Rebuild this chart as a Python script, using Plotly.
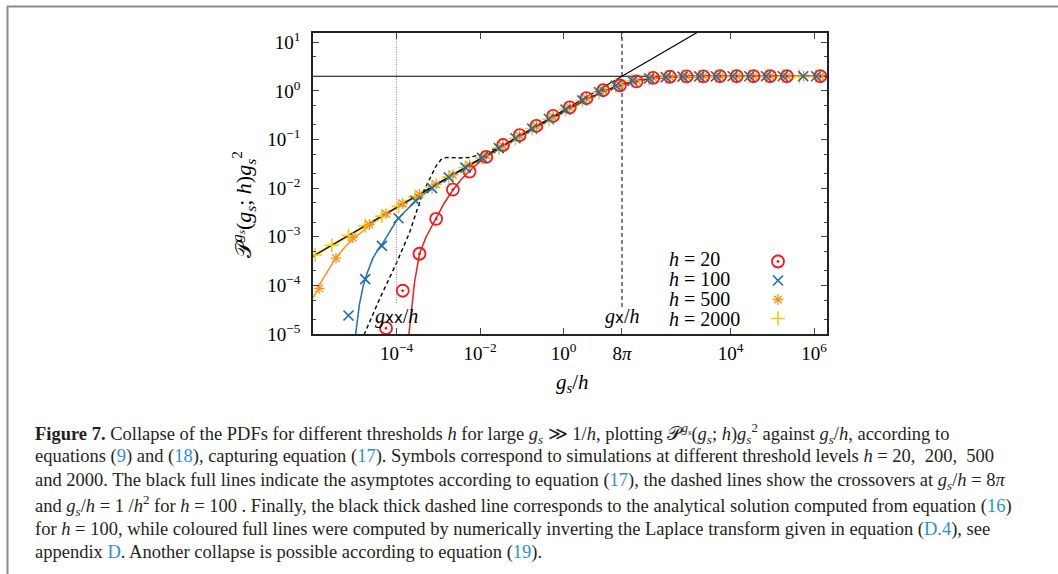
import plotly.graph_objects as go

# ---------------- data ----------------
# common collapse curve (all h) for larger g_s/h
collapse_x = [0.01585, 0.03981, 0.1, 0.2512, 0.631, 1.585, 3.981, 10, 15.85, 25.12,
              39.81, 63.1, 100, 158.5, 251.2, 398.1, 631, 1000, 2512, 10000, 2.04e6]
collapse_y = [0.0500, 0.0790, 0.1245, 0.1950, 0.3040, 0.466, 0.700, 1.005, 1.170, 1.340,
              1.500, 1.640, 1.757, 1.848, 1.911, 1.951, 1.974, 1.986, 1.996, 2.0, 2.0]

# coloured full lines, low g_s/h parts
line2000_x = [1e-6, 1e-5, 1e-4, 1e-3, 6.31e-3]
line2000_y = [3.98e-4, 1.259e-3, 3.98e-3, 1.259e-2, 3.16e-2]

line500_x = [1.0e-6, 1.26e-6, 1.58e-6, 2.0e-6, 2.51e-6, 3.16e-6, 3.98e-6, 6.31e-6, 1.0e-5,
             1.58e-5, 2.51e-5, 3.98e-5, 6.31e-5, 1.0e-4, 1.0e-3, 6.31e-3]
line500_y = [5.62e-5, 7.6e-5, 1.20e-4, 1.70e-4, 2.34e-4, 3.16e-4, 4.17e-4, 6.61e-4, 9.55e-4,
             1.32e-3, 1.82e-3, 2.40e-3, 3.13e-3, 3.98e-3, 1.259e-2, 3.16e-2]

line100_x = [1.0e-5, 1.122e-5, 1.288e-5, 1.585e-5, 1.995e-5, 2.69e-5, 3.55e-5, 4.47e-5, 6.31e-5,
             1.0e-4, 1.585e-4, 2.51e-4, 3.98e-4, 6.31e-4, 1.0e-3, 2.51e-3, 6.31e-3]
line100_y = [7.08e-6, 1.78e-5, 3.98e-5, 9.55e-5, 1.82e-4, 3.55e-4, 5.37e-4, 6.92e-4, 1.10e-3,
             2.14e-3, 3.31e-3, 4.79e-3, 6.92e-3, 9.55e-3, 1.245e-2, 2.0e-2, 3.16e-2]

line20_x = [1.905e-4, 1.995e-4, 2.24e-4, 2.69e-4, 3.55e-4, 5.13e-4, 8.71e-4, 1.41e-3, 2.24e-3,
            3.55e-3, 5.62e-3, 8.91e-3, 1.41e-2, 2.51e-2]
line20_y = [7.08e-6, 1.0e-5, 3.16e-5, 1.12e-4, 4.47e-4, 1.0e-3, 2.34e-3, 5.01e-3, 9.12e-3,
            1.51e-2, 2.24e-2, 3.24e-2, 4.37e-2, 6.17e-2]

# analytical solution for h = 100 (thick dashed)
analytic_x = [1.41e-5, 1.70e-5, 3.98e-5, 1.0e-4, 2.04e-4, 2.95e-4, 4.27e-4, 5.62e-4, 8.91e-4,
              1.175e-3, 1.585e-3, 3.16e-3, 5.62e-3, 1.0e-2, 1.41e-2, 2.51e-2]
analytic_y = [7.08e-6, 1.0e-5, 5.37e-5, 2.88e-4, 1.20e-3, 3.09e-3, 8.13e-3, 1.29e-2, 2.88e-2,
              3.89e-2, 4.27e-2, 4.17e-2, 4.27e-2, 4.90e-2, 5.37e-2, 6.76e-2]

# asymptotes
asym_diag_x = [1e-6, 1e4]
asym_diag_y = [3.99e-4, 39.9]
asym_flat_x = [1e-6, 2.1e6]
asym_flat_y = [2.0, 2.0]

# crossovers (vertical lines)
cross_hh_x = [1e-4, 1e-4]
cross_hh_y = [4.4e-5, 30]
cross_8pi_x = [25.13, 25.13]
cross_8pi_y = [3.6e-5, 30]

# simulation symbols
sim20_x = [5.62e-5, 1.41e-4, 3.55e-4, 8.91e-4, 2.24e-3, 5.62e-3, 1.41e-2, 3.55e-2, 8.91e-2,
           0.224, 0.562, 1.41, 3.55, 8.91, 22.4, 56.2, 141, 355, 891, 2240, 5620, 14100,
           35500, 89100, 224000, 1410000]
sim20_y = [1.32e-5, 7.76e-5, 4.47e-4, 2.34e-3, 9.33e-3, 2.19e-2, 4.37e-2, 0.077, 0.123,
           0.190, 0.305, 0.457, 0.708, 1.03, 1.29, 1.56, 1.85, 1.95, 1.98, 1.99, 2.0, 2.0,
           2.0, 2.0, 2.0, 2.0]

sim100_x = [7.08e-6, 1.78e-5, 4.47e-5, 1.12e-4, 2.82e-4, 7.08e-4, 1.78e-3, 4.47e-3, 1.12e-2,
            2.82e-2, 7.08e-2, 0.178, 0.447, 1.12, 2.82, 7.08, 17.8, 44.7, 112, 282, 708,
            1780, 4470, 11200, 28200, 70800, 178000, 550000, 1120000]
sim100_y = [2.40e-5, 1.35e-4, 6.46e-4, 2.40e-3, 5.50e-3, 1.0e-2, 1.66e-2, 2.64e-2, 4.2e-2,
            0.0665, 0.106, 0.167, 0.264, 0.413, 0.635, 0.94, 1.28, 1.60, 1.81, 1.92, 1.965,
            1.99, 1.995, 2.0, 2.0, 2.0, 2.0, 2.0, 2.0]

sim500_x = [1.41e-6, 3.55e-6, 8.91e-6, 2.24e-5, 5.62e-5, 1.41e-4, 3.55e-4, 8.91e-4, 2.24e-3,
            5.62e-3, 1.41e-2, 3.55e-2, 8.91e-2, 0.224, 0.562, 1.41, 3.55, 8.91, 22.4, 56.2,
            141, 355, 891, 2240, 5620, 14100, 35500, 89100, 224000, 562000, 1410000]
sim500_y = [8.7e-5, 3.63e-4, 9.55e-4, 1.78e-3, 2.95e-3, 4.8e-3, 7.4e-3, 1.2e-2, 1.88e-2,
            2.99e-2, 4.73e-2, 0.0752, 0.119, 0.188, 0.296, 0.461, 0.703, 1.02, 1.35, 1.64,
            1.84, 1.93, 1.97, 1.99, 2.0, 2.0, 2.0, 2.0, 2.0, 2.0, 2.0]

sim2000_x = [1.12e-6, 2.82e-6, 7.08e-6, 1.78e-5, 4.47e-5, 1.12e-4, 2.82e-4, 7.08e-4, 1.78e-3,
             4.47e-3, 1.12e-2, 2.82e-2, 7.08e-2, 0.178, 0.447, 1.12, 2.82, 7.08, 17.8, 44.7,
             112, 282, 708, 1780, 4470, 11200, 28200, 70800, 178000, 447000, 1120000]
sim2000_y = [4.22e-4, 6.68e-4, 1.06e-3, 1.68e-3, 2.66e-3, 4.22e-3, 6.68e-3, 1.06e-2, 1.68e-2,
             2.66e-2, 4.22e-2, 0.067, 0.106, 0.168, 0.2645, 0.4135, 0.635, 0.938, 1.29, 1.60,
             1.81, 1.917, 1.966, 1.986, 1.994, 1.998, 2.0, 2.0, 2.0, 2.0, 2.0]

legend_labels = ["<i>h</i> = 20", "<i>h</i> = 100", "<i>h</i> = 500", "<i>h</i> = 2000"]

x_tickvals = [1e-4, 1e-2, 1, 25.13, 1e4, 1e6]
x_ticktext = ["10<sup>−4</sup>", "10<sup>−2</sup>", "10<sup>0</sup>", "8<i>π</i>",
              "10<sup>4</sup>", "10<sup>6</sup>"]
y_tickvals = [1e-5, 1e-4, 1e-3, 1e-2, 1e-1, 1, 10]
y_ticktext = ["10<sup>−5</sup>", "10<sup>−4</sup>", "10<sup>−3</sup>", "10<sup>−2</sup>",
              "10<sup>−1</sup>", "10<sup>0</sup>", "10<sup>1</sup>"]
y_minorvals = [2e-5, 5e-5, 2e-4, 5e-4, 2e-3, 5e-3, 2e-2, 5e-2, 0.2, 0.5, 2, 5]

# ---------------- styling ----------------
RED = "#f21a1a"
BLUE = "#1f6fb4"
ORANGE = "#f7931e"
YELLOW = "#f6c90e"
LINK = "#2b8fcf"
SERIF = "Liberation Serif"

W, H = 1058, 574
L, R, T, B = 313, 231, 33, 240
PW, PH = W - L - R, H - T - B


def px(xp):
    return (xp - L) / PW


def py(yp):
    return 1 - (yp - T) / PH


fig = go.Figure()


def add_line(xs, ys, color, width, dash=None):
    fig.add_trace(go.Scatter(x=xs, y=ys, mode="lines",
                             line=dict(color=color, width=width, dash=dash),
                             showlegend=False, hoverinfo="skip"))


# coloured numerical lines
add_line(line2000_x + collapse_x, line2000_y + collapse_y, YELLOW, 2.6)
add_line(line500_x + collapse_x, line500_y + collapse_y, ORANGE, 1.5)
add_line(line100_x + collapse_x, line100_y + collapse_y, BLUE, 1.5)
add_line(line20_x + collapse_x[1:], line20_y + collapse_y[1:], RED, 1.5)
# analytic h=100
add_line(analytic_x + collapse_x[1:], analytic_y + collapse_y[1:], "black", 1.4, "4px,3px")
# crossovers
add_line(cross_hh_x, cross_hh_y, "#8a8a8a", 1.1, "1px,1.5px")
add_line(cross_8pi_x, cross_8pi_y, "black", 1.0, "4px,3px")
# asymptotes
add_line(asym_diag_x, asym_diag_y, "black", 1.2)
add_line(asym_flat_x, asym_flat_y, "black", 1.2)

# symbols (drawn yellow, orange, red, blue; legend ordered 20, 100, 500, 2000)
fig.add_trace(go.Scatter(x=sim2000_x, y=sim2000_y, mode="markers", name=" ", legendrank=4,
                         marker=dict(symbol="cross-thin-open", size=10, color=YELLOW,
                                     line=dict(width=1.6, color=YELLOW))))
fig.add_trace(go.Scatter(x=sim500_x, y=sim500_y, mode="markers", name=" ", legendrank=3,
                         marker=dict(symbol="asterisk-open", size=9, color=ORANGE,
                                     line=dict(width=1.3, color=ORANGE))))
fig.add_trace(go.Scatter(x=sim20_x, y=sim20_y, mode="markers", name=" ", legendrank=1,
                         marker=dict(symbol="circle-open-dot", size=12, color=RED,
                                     line=dict(width=1.8, color=RED))))
fig.add_trace(go.Scatter(x=sim100_x, y=sim100_y, mode="markers", name=" ", legendrank=2,
                         marker=dict(symbol="x-thin-open", size=10, color=BLUE,
                                     line=dict(width=1.7, color=BLUE))))

annotations = []
# legend text
for i, lab in enumerate(legend_labels):
    annotations.append(dict(x=px(667), y=py(259 + 20 * i), xref="paper", yref="paper",
                            text=lab, showarrow=False, xanchor="left", yanchor="middle",
                            font=dict(family=SERIF, size=20, color="black")))
# in-plot labels
annotations.append(dict(x=-4, y=-4.64, xref="x", yref="y", xanchor="center", yanchor="middle",
                        text="<i>g</i><span style='font-family:DejaVu Sans;font-size:15px'>xx</span>/<i>h</i>",
                        showarrow=False, font=dict(family=SERIF, size=20, color="black")))
annotations.append(dict(x=1.40, y=-4.63, xref="x", yref="y", xanchor="center", yanchor="middle",
                        text="<i>g</i><span style='font-family:DejaVu Sans;font-size:15px'>x</span>/<i>h</i>",
                        showarrow=False, font=dict(family=SERIF, size=20, color="black")))
# axis titles
annotations.append(dict(x=px(572), y=py(383), xref="paper", yref="paper",
                        xanchor="center", yanchor="middle",
                        text="<i>g<sub>s</sub></i>/<i>h</i>", showarrow=False,
                        font=dict(family=SERIF, size=21, color="black")))
annotations.append(dict(x=px(243), y=py(205), xref="paper", yref="paper", textangle=-90,
                        xanchor="center", yanchor="middle",
                        text="𝒫<sup><i>g<sub>s</sub></i></sup>(<i>g<sub>s</sub></i>; <i>h</i>)<i>g<sub>s</sub></i><sup>2</sup>",
                        showarrow=False, font=dict(family=SERIF, size=22, color="black")))


def lk(t):
    return "<span style='color:%s'>%s</span>" % (LINK, t)


gs = "<i>g<sub>s</sub></i>"
caption = [
    "<b>Figure 7.</b> Collapse of the PDFs for different thresholds <i>h</i> for large " + gs +
    " ≫ 1/<i>h</i>, plotting 𝒫<sup><i>g<sub>s</sub></i></sup>(" + gs + "; <i>h</i>)" + gs +
    "<sup>2</sup> against " + gs + "/<i>h</i>, according to",
    "equations (" + lk("9") + ") and (" + lk("18") + "), capturing equation (" + lk("17") +
    "). Symbols correspond to simulations at different threshold levels <i>h</i> = 20,  200,  500",
    "and 2000. The black full lines indicate the asymptotes according to equation (" + lk("17") +
    "), the dashed lines show the crossovers at " + gs + "/<i>h</i> = 8<i>π</i>",
    "and " + gs + "/<i>h</i> = 1 /<i>h</i><sup>2</sup> for <i>h</i> = 100 . Finally, the black thick dashed line corresponds to the analytical solution computed from equation (" + lk("16") + ")",
    "for <i>h</i> = 100, while coloured full lines were computed by numerically inverting the Laplace transform given in equation (" + lk("D.4") + "), see",
    "appendix " + lk("D") + ". Another collapse is possible according to equation (" + lk("19") + ").",
]
cap_y = [433, 457, 481, 505, 529, 552]
for t, yy in zip(caption, cap_y):
    annotations.append(dict(x=px(33), y=py(yy), xref="paper", yref="paper", text=t,
                            showarrow=False, xanchor="left", yanchor="middle",
                            font=dict(family=SERIF, size=18.5, color="#231f20")))

shapes = [
    dict(type="line", xref="paper", yref="paper", x0=px(7), x1=px(1058), y0=py(6.5), y1=py(6.5),
         line=dict(color="#8c8c8c", width=2)),
    dict(type="line", xref="paper", yref="paper", x0=px(7.5), x1=px(7.5), y0=py(6), y1=py(574),
         line=dict(color="#8c8c8c", width=2)),
]

axis_common = dict(type="log", showline=True, linecolor="#222222", linewidth=1.5,
                   mirror="ticks", ticks="inside", ticklen=6, tickwidth=1,
                   tickcolor="#444444", showgrid=False, zeroline=False,
                   tickfont=dict(family=SERIF, size=19, color="black"))

fig.update_layout(
    width=W, height=H, margin=dict(l=L, r=R, t=T, b=B),
    paper_bgcolor="white", plot_bgcolor="white",
    xaxis=dict(range=[-6.0, 6.31], tickmode="array", tickvals=x_tickvals,
               ticktext=x_ticktext, ticklabelstandoff=1, **axis_common),
    yaxis=dict(range=[-5, 1.19], tickmode="array", tickvals=y_tickvals,
               ticktext=y_ticktext, ticklabelstandoff=7,
               minor=dict(tickmode="array", tickvals=y_minorvals, ticks="inside",
                          ticklen=3.5, tickcolor="#444444"),
               **axis_common),
    showlegend=True,
    legend=dict(x=px(758), y=py(247), xanchor="left", yanchor="top",
                bgcolor="rgba(0,0,0,0)", font=dict(family=SERIF, size=12),
                tracegroupgap=0, itemwidth=30),
    annotations=annotations, shapes=shapes,
)

fig.write_html("out.html")
